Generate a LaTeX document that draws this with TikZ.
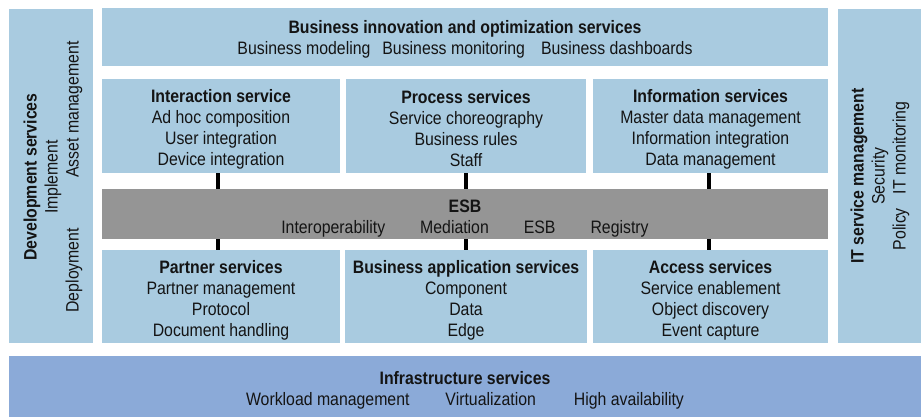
\documentclass[tikz,border=0pt]{standalone}
\usepackage{fontspec}
\setmainfont[FakeStretch=0.88]{Liberation Sans}
\definecolor{lb}{RGB}{169,203,224}
\definecolor{infra}{RGB}{139,170,216}
\definecolor{esbgray}{RGB}{149,149,149}
\definecolor{txt}{RGB}{20,20,20}
\newcommand{\fsz}{\fontsize{18}{21}\selectfont}
\begin{document}
\begin{tikzpicture}[x=1pt,y=-1pt,
  box/.style={fill=lb, inner sep=0pt},
  lbl/.style={align=center, font=\fsz, text=txt, inner sep=0pt},
  conn/.style={line width=4.5pt, black}]
\useasboundingbox (0,0) rectangle (924,417);
% side boxes
\node[box, minimum width=84, minimum height=334] (dev) at (51,176) {};
\node[lbl, rotate=90] (devt) at (53,177)
  {\textbf{Development services}\\Implement\\Deployment\hspace{50pt}Asset management};
\node[box, minimum width=83, minimum height=334] (itsm) at (879.5,176) {};
\node[lbl, rotate=90] (itsmt) at (880,176)
  {\textbf{IT service management}\\Security\\Policy\hspace{14pt}IT monitoring};
% top
\node[box, minimum width=726, minimum height=58] (bios) at (465,37) {};
\node[lbl] (biost) at (465,39.5)
  {\textbf{Business innovation and optimization services}\\Business modeling\hspace{12pt}Business monitoring\hspace{16pt}Business dashboards};
% row 2
\node[box, minimum width=238, minimum height=94] (inter) at (221,126) {};
\node[box, minimum width=240, minimum height=94] (proc) at (466,126) {};
\node[box, minimum width=235, minimum height=94] (info) at (710.5,126) {};
\node[lbl] (intert) at (221,129)
  {\textbf{Interaction service}\\Ad hoc composition\\User integration\\Device integration};
\node[lbl] (proct) at (466,129)
  {\textbf{Process services}\\Service choreography\\Business rules\\Staff};
\node[lbl] (infot) at (710.5,129)
  {\textbf{Information services}\\Master data management\\Information integration\\Data management};
% ESB
\node[box, fill=esbgray, minimum width=726, minimum height=50] (esb) at (465,214) {};
\node[lbl] (esbt) at (465,218.5)
  {\textbf{ESB}\\Interoperability\hspace{35pt}Mediation\hspace{35pt}ESB\hspace{35pt}Registry};
% row 3
\node[box, minimum width=238, minimum height=93] (partner) at (221,296.5) {};
\node[box, minimum width=242, minimum height=93] (bas) at (466,296.5) {};
\node[box, minimum width=235, minimum height=93] (access) at (710.5,296.5) {};
\node[lbl] (partnert) at (221,300)
  {\textbf{Partner services}\\Partner management\\Protocol\\Document handling};
\node[lbl] (bast) at (466,300)
  {\textbf{Business application services}\\Component\\Data\\Edge};
\node[lbl] (accesst) at (710.5,300)
  {\textbf{Access services}\\Service enablement\\Object discovery\\Event capture};
% bottom
\node[box, fill=infra, minimum width=912, minimum height=61] (infrast) at (465,386.5) {};
\node[lbl] (infrat) at (465,390)
  {\textbf{Infrastructure services}\\Workload management\hspace{36pt}Virtualization\hspace{38pt}High availability};
% connectors
\draw[conn] ([xshift=-3pt]inter.south) -- ([xshift=-3pt]inter.south |- esb.north);
\draw[conn] (proc.south) -- (proc.south |- esb.north);
\draw[conn] ([xshift=-1.5pt]info.south) -- ([xshift=-1.5pt]info.south |- esb.north);
\draw[conn] ([xshift=-3pt]partner.north) -- ([xshift=-3pt]partner.north |- esb.south);
\draw[conn] (bas.north) -- (bas.north |- esb.south);
\draw[conn] ([xshift=-1.5pt]access.north) -- ([xshift=-1.5pt]access.north |- esb.south);
\end{tikzpicture}
\end{document}
